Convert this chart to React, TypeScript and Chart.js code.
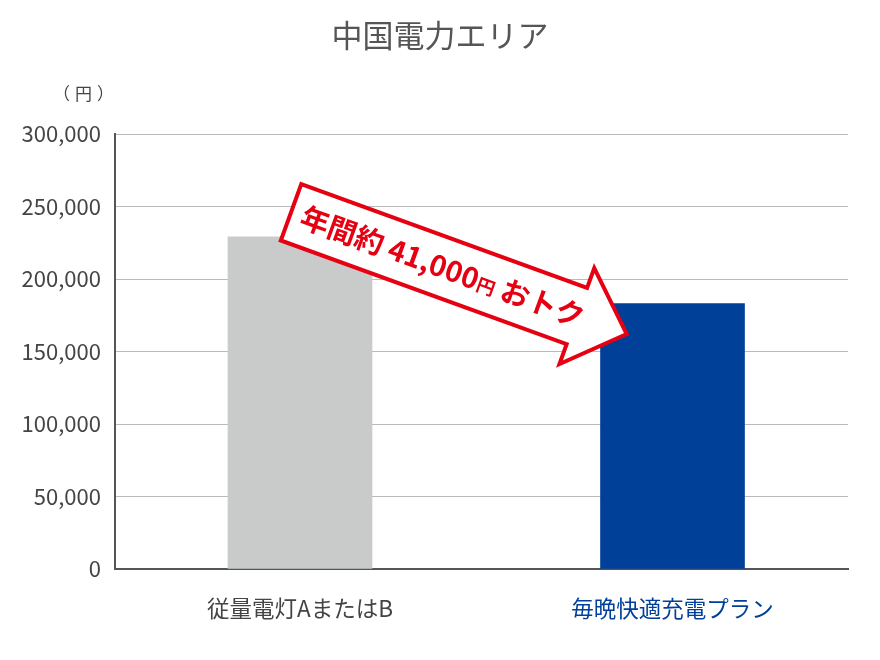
import React, { useEffect, useRef } from "react";
import { Chart, registerables } from "chart.js";

Chart.register(...registerables);

const TITLE = "中国電力エリア";
const UNIT_LABEL = "（円）";
const CATEGORIES = ["従量電灯AまたはB", "毎晩快適充電プラン"];
const VALUES = [229000, 183000];
const BAR_COLORS = ["#c9caca", "#004098"];
const LABEL_COLORS = ["#444444", "#004098"];
const Y_MIN = 0;
const Y_MAX = 300000;
const Y_STEP = 50000;
const CALLOUT_PARTS = [
  { text: "年間約 ", small: false },
  { text: "41,000", small: false },
  { text: "円", small: true },
  { text: " おトク", small: false },
];
const ARROW_FROM = { x: -0.024, y: 246000 };
const ARROW_TO = { x: 0.877, y: 162000 };

const FONT = '"Noto Sans CJK JP", "Noto Sans", sans-serif';
const RED = "#e50012";

const overlayPlugin = {
  id: "overlay",
  afterDraw(chart: any) {
    const ctx = chart.ctx;
    const xs = chart.scales.x;
    const ys = chart.scales.y;
    ctx.save();
    // title
    ctx.font = `31px ${FONT}`;
    ctx.fillStyle = "#555555";
    ctx.textAlign = "center";
    ctx.textBaseline = "middle";
    ctx.fillText(TITLE, chart.width / 2, 35);
    // unit
    ctx.font = `17px ${FONT}`;
    ctx.fillStyle = "#444444";
    (ctx as any).letterSpacing = "5px";
    ctx.fillText(UNIT_LABEL, 86, 94);
    (ctx as any).letterSpacing = "0px";

    // arrow
    const x0 = xs.getPixelForValue(ARROW_FROM.x);
    const y0 = ys.getPixelForValue(ARROW_FROM.y);
    const x1 = xs.getPixelForValue(ARROW_TO.x);
    const y1 = ys.getPixelForValue(ARROW_TO.y);
    const ang = Math.atan2(y1 - y0, x1 - x0);
    const len = Math.hypot(x1 - x0, y1 - y0);
    const bh = 30, hh = 51, hl = 53;
    ctx.translate(x0, y0);
    ctx.rotate(ang);
    ctx.beginPath();
    ctx.moveTo(0, -bh);
    ctx.lineTo(len - hl, -bh);
    ctx.lineTo(len - hl, -hh);
    ctx.lineTo(len, 0);
    ctx.lineTo(len - hl, hh);
    ctx.lineTo(len - hl, bh);
    ctx.lineTo(0, bh);
    ctx.closePath();
    ctx.fillStyle = "#ffffff";
    ctx.fill();
    ctx.lineWidth = 4;
    ctx.lineJoin = "miter";
    ctx.strokeStyle = RED;
    ctx.stroke();

    // text
    let size = 28;
    const smallK = 0.64;
    const measure = (s: number) => {
      let w = 0;
      for (const p of CALLOUT_PARTS) {
        ctx.font = `bold ${p.small ? s * smallK : s}px ${FONT}`;
        w += ctx.measureText(p.text).width;
      }
      return w;
    };
    let W = measure(size);
    size = size * (300 / W);
    W = measure(size);
    let u = 161 - W / 2;
    const base = size * 0.36;
    ctx.fillStyle = RED;
    ctx.textAlign = "left";
    ctx.textBaseline = "alphabetic";
    for (const p of CALLOUT_PARTS) {
      ctx.font = `bold ${p.small ? size * smallK : size}px ${FONT}`;
      ctx.fillText(p.text, u, base);
      u += ctx.measureText(p.text).width;
    }
    ctx.restore();
  },
};

export default function App() {
  const ref = useRef<HTMLCanvasElement | null>(null);
  useEffect(() => {
    if (!ref.current) return;
    const chart = new Chart(ref.current, {
      type: "bar",
      data: {
        datasets: [
          {
            data: VALUES.map((v, i) => ({ x: i, y: v })),
            backgroundColor: BAR_COLORS,
            barThickness: 144,
            borderWidth: 0,
          },
        ],
      },
      options: {
        responsive: false,
        animation: false,
        devicePixelRatio: 1,
        layout: { padding: { top: 134, right: 32, bottom: 0, left: 0 } },
        plugins: {
          legend: { display: false },
          tooltip: { enabled: false },
          title: { display: false },
        },
        scales: {
          x: {
            type: "linear",
            offset: false,
            min: -0.4966,
            max: 1.4711,
            afterBuildTicks: (scale: any) => {
              scale.ticks = CATEGORIES.map((_, i) => ({ value: i }));
            },
            afterFit: (scale: any) => {
              scale.height = 91;
            },
            grid: { display: false, drawTicks: false },
            border: { display: true, color: "#555555", width: 2 },
            ticks: {
              autoSkip: false,
              maxRotation: 0,
              padding: 26,
              font: { family: FONT, size: 22.5 },
              color: (c: any) => LABEL_COLORS[c.index] || "#444444",
              callback: (v: any) => CATEGORIES[v] ?? "",
            },
          },
          y: {
            min: Y_MIN,
            max: Y_MAX,
            afterFit: (scale: any) => {
              scale.width = 115;
            },
            grid: { color: "#bbbbbb", lineWidth: 1, drawTicks: false },
            border: { display: true, color: "#555555", width: 2 },
            ticks: {
              stepSize: Y_STEP,
              padding: 14,
              font: { family: FONT, size: 22 },
              color: "#444444",
              callback: (v: any) => Number(v).toLocaleString("en-US"),
            },
          },
        },
      },
      plugins: [overlayPlugin],
    } as any);
    return () => chart.destroy();
  }, []);
  return (
    <div style={{ position: "absolute", left: 0, top: 0, width: 880, height: 660, background: "#fff" }}>
      <canvas ref={ref} width={880} height={660} />
    </div>
  );
}
